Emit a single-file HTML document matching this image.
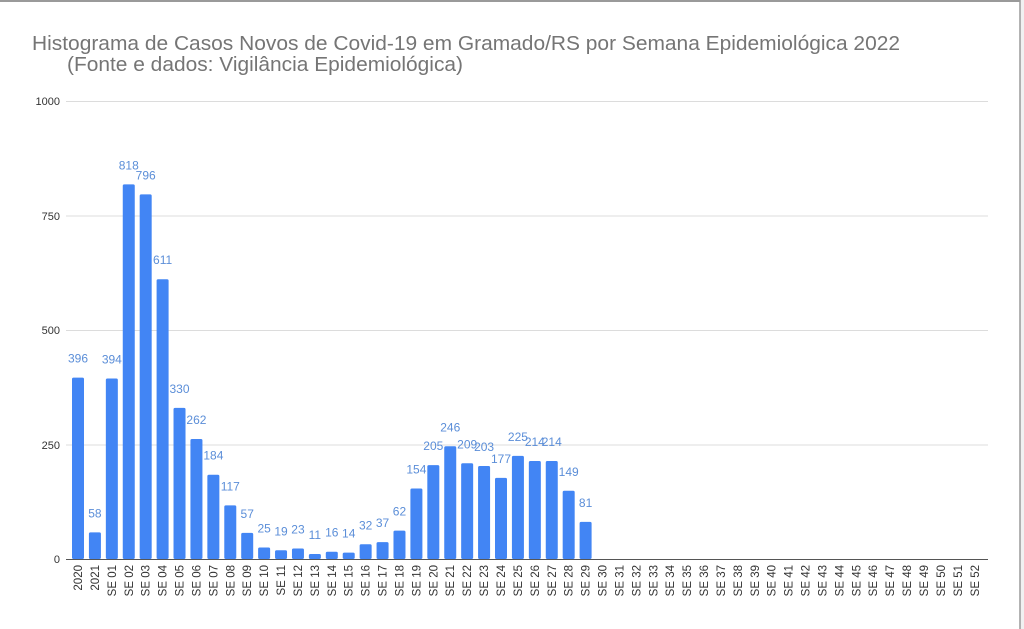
<!DOCTYPE html>
<html><head><meta charset="utf-8"><style>
html,body{margin:0;padding:0;background:#fff;}
svg{display:block;font-family:"Liberation Sans",Arial,sans-serif;}
</style></head><body>
<svg width="1024" height="629" viewBox="0 0 1024 629" xmlns="http://www.w3.org/2000/svg">
<rect width="1024" height="629" fill="#fff"/>
<line x1="0" y1="1" x2="1020" y2="1" stroke="#9a9a9a" stroke-width="2"/>
<rect x="1020" y="0" width="4" height="629" fill="#f1f1f1"/>
<line x1="1020" y1="0" x2="1020" y2="629" stroke="#9a9a9a" stroke-width="1.5"/>
<text x="32" y="50" font-size="20" fill="#757575" textLength="868" lengthAdjust="spacingAndGlyphs">Histograma de Casos Novos de Covid-19 em Gramado/RS por Semana Epidemiológica 2022</text>
<text x="67" y="71" font-size="20" fill="#757575" textLength="396" lengthAdjust="spacingAndGlyphs">(Fonte e dados: Vigilância Epidemiológica)</text>
<g stroke="#dcdcdc" stroke-width="1">
<line x1="66" y1="101.5" x2="988" y2="101.5"/>
<line x1="66" y1="216" x2="988" y2="216"/>
<line x1="66" y1="330.5" x2="988" y2="330.5"/>
<line x1="66" y1="445" x2="988" y2="445"/>
</g>
<g font-size="11" fill="#333" text-anchor="end">
<text x="60" y="105">1000</text>
<text x="60" y="220">750</text>
<text x="60" y="334">500</text>
<text x="60" y="449">250</text>
<text x="60" y="563">0</text>
</g>
<g fill="#4285f4">
<rect x="72" y="377.6" width="12" height="181.4" rx="1.5"/>
<rect x="88.92" y="532.4" width="12" height="26.6" rx="1.5"/>
<rect x="105.84" y="378.5" width="12" height="180.5" rx="1.5"/>
<rect x="122.76" y="184.4" width="12" height="374.6" rx="1.5"/>
<rect x="139.68" y="194.4" width="12" height="364.6" rx="1.5"/>
<rect x="156.6" y="279.2" width="12" height="279.8" rx="1.5"/>
<rect x="173.52" y="407.9" width="12" height="151.1" rx="1.5"/>
<rect x="190.44" y="439" width="12" height="120" rx="1.5"/>
<rect x="207.36" y="474.7" width="12" height="84.3" rx="1.5"/>
<rect x="224.28" y="505.4" width="12" height="53.6" rx="1.5"/>
<rect x="241.2" y="532.9" width="12" height="26.1" rx="1.5"/>
<rect x="258.12" y="547.5" width="12" height="11.5" rx="1.5"/>
<rect x="275.04" y="550.3" width="12" height="8.7" rx="1.5"/>
<rect x="291.96" y="548.5" width="12" height="10.5" rx="1.5"/>
<rect x="308.88" y="554" width="12" height="5" rx="1.5"/>
<rect x="325.8" y="551.7" width="12" height="7.3" rx="1.5"/>
<rect x="342.72" y="552.6" width="12" height="6.4" rx="1.5"/>
<rect x="359.64" y="544.3" width="12" height="14.7" rx="1.5"/>
<rect x="376.56" y="542.1" width="12" height="16.9" rx="1.5"/>
<rect x="393.48" y="530.6" width="12" height="28.4" rx="1.5"/>
<rect x="410.4" y="488.5" width="12" height="70.5" rx="1.5"/>
<rect x="427.32" y="465.1" width="12" height="93.9" rx="1.5"/>
<rect x="444.24" y="446.3" width="12" height="112.7" rx="1.5"/>
<rect x="461.16" y="463.3" width="12" height="95.7" rx="1.5"/>
<rect x="478.08" y="466" width="12" height="93" rx="1.5"/>
<rect x="495" y="477.9" width="12" height="81.1" rx="1.5"/>
<rect x="511.92" y="455.9" width="12" height="103.1" rx="1.5"/>
<rect x="528.84" y="461" width="12" height="98" rx="1.5"/>
<rect x="545.76" y="461" width="12" height="98" rx="1.5"/>
<rect x="562.68" y="490.8" width="12" height="68.2" rx="1.5"/>
<rect x="579.6" y="521.9" width="12" height="37.1" rx="1.5"/>
</g>
<g font-size="12" fill="#5b8ed8" text-anchor="middle">
<text x="78" y="362.6">396</text>
<text x="94.92" y="517.4">58</text>
<text x="111.84" y="363.5">394</text>
<text x="128.76" y="169.4">818</text>
<text x="145.68" y="179.4">796</text>
<text x="162.6" y="264.2">611</text>
<text x="179.52" y="392.9">330</text>
<text x="196.44" y="424">262</text>
<text x="213.36" y="459.7">184</text>
<text x="230.28" y="490.4">117</text>
<text x="247.2" y="517.9">57</text>
<text x="264.12" y="532.5">25</text>
<text x="281.04" y="535.3">19</text>
<text x="297.96" y="533.5">23</text>
<text x="314.88" y="539">11</text>
<text x="331.8" y="536.7">16</text>
<text x="348.72" y="537.6">14</text>
<text x="365.64" y="529.3">32</text>
<text x="382.56" y="527.1">37</text>
<text x="399.48" y="515.6">62</text>
<text x="416.4" y="473.5">154</text>
<text x="433.32" y="450.1">205</text>
<text x="450.24" y="431.3">246</text>
<text x="467.16" y="448.3">209</text>
<text x="484.08" y="451">203</text>
<text x="501" y="462.9">177</text>
<text x="517.92" y="440.9">225</text>
<text x="534.84" y="446">214</text>
<text x="551.76" y="446">214</text>
<text x="568.68" y="475.8">149</text>
<text x="585.6" y="506.9">81</text>
</g>
<g font-size="11.5" fill="#333" text-anchor="end">
<text transform="translate(82,565) rotate(-90)">2020</text>
<text transform="translate(98.92,565) rotate(-90)">2021</text>
<text transform="translate(115.84,565) rotate(-90)">SE 01</text>
<text transform="translate(132.76,565) rotate(-90)">SE 02</text>
<text transform="translate(149.68,565) rotate(-90)">SE 03</text>
<text transform="translate(166.6,565) rotate(-90)">SE 04</text>
<text transform="translate(183.52,565) rotate(-90)">SE 05</text>
<text transform="translate(200.44,565) rotate(-90)">SE 06</text>
<text transform="translate(217.36,565) rotate(-90)">SE 07</text>
<text transform="translate(234.28,565) rotate(-90)">SE 08</text>
<text transform="translate(251.2,565) rotate(-90)">SE 09</text>
<text transform="translate(268.12,565) rotate(-90)">SE 10</text>
<text transform="translate(285.04,565) rotate(-90)">SE 11</text>
<text transform="translate(301.96,565) rotate(-90)">SE 12</text>
<text transform="translate(318.88,565) rotate(-90)">SE 13</text>
<text transform="translate(335.8,565) rotate(-90)">SE 14</text>
<text transform="translate(352.72,565) rotate(-90)">SE 15</text>
<text transform="translate(369.64,565) rotate(-90)">SE 16</text>
<text transform="translate(386.56,565) rotate(-90)">SE 17</text>
<text transform="translate(403.48,565) rotate(-90)">SE 18</text>
<text transform="translate(420.4,565) rotate(-90)">SE 19</text>
<text transform="translate(437.32,565) rotate(-90)">SE 20</text>
<text transform="translate(454.24,565) rotate(-90)">SE 21</text>
<text transform="translate(471.16,565) rotate(-90)">SE 22</text>
<text transform="translate(488.08,565) rotate(-90)">SE 23</text>
<text transform="translate(505,565) rotate(-90)">SE 24</text>
<text transform="translate(521.92,565) rotate(-90)">SE 25</text>
<text transform="translate(538.84,565) rotate(-90)">SE 26</text>
<text transform="translate(555.76,565) rotate(-90)">SE 27</text>
<text transform="translate(572.68,565) rotate(-90)">SE 28</text>
<text transform="translate(589.6,565) rotate(-90)">SE 29</text>
<text transform="translate(606.52,565) rotate(-90)">SE 30</text>
<text transform="translate(623.44,565) rotate(-90)">SE 31</text>
<text transform="translate(640.36,565) rotate(-90)">SE 32</text>
<text transform="translate(657.28,565) rotate(-90)">SE 33</text>
<text transform="translate(674.2,565) rotate(-90)">SE 34</text>
<text transform="translate(691.12,565) rotate(-90)">SE 35</text>
<text transform="translate(708.04,565) rotate(-90)">SE 36</text>
<text transform="translate(724.96,565) rotate(-90)">SE 37</text>
<text transform="translate(741.88,565) rotate(-90)">SE 38</text>
<text transform="translate(758.8,565) rotate(-90)">SE 39</text>
<text transform="translate(775.72,565) rotate(-90)">SE 40</text>
<text transform="translate(792.64,565) rotate(-90)">SE 41</text>
<text transform="translate(809.56,565) rotate(-90)">SE 42</text>
<text transform="translate(826.48,565) rotate(-90)">SE 43</text>
<text transform="translate(843.4,565) rotate(-90)">SE 44</text>
<text transform="translate(860.32,565) rotate(-90)">SE 45</text>
<text transform="translate(877.24,565) rotate(-90)">SE 46</text>
<text transform="translate(894.16,565) rotate(-90)">SE 47</text>
<text transform="translate(911.08,565) rotate(-90)">SE 48</text>
<text transform="translate(928,565) rotate(-90)">SE 49</text>
<text transform="translate(944.92,565) rotate(-90)">SE 50</text>
<text transform="translate(961.84,565) rotate(-90)">SE 51</text>
<text transform="translate(978.76,565) rotate(-90)">SE 52</text>
</g>
<line x1="66" y1="559.5" x2="988" y2="559.5" stroke="#555" stroke-width="1"/>
</svg>
</body></html>
